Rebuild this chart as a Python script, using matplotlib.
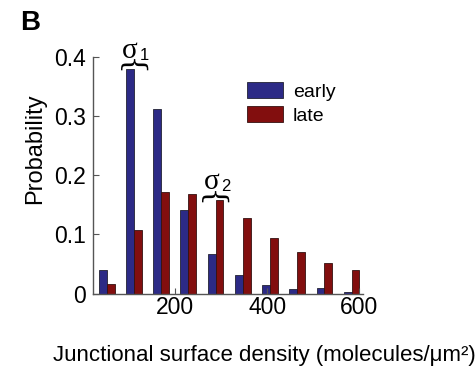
import numpy as np
from matplotlib import pyplot as plt

# histogram bins (molecules/um^2) and probabilities
bin_centers = [52, 111, 170, 229, 288, 347, 406, 465, 524, 583]
early = [0.039, 0.380, 0.313, 0.141, 0.067, 0.032, 0.014, 0.007, 0.010, 0.002]
late = [0.016, 0.108, 0.172, 0.168, 0.158, 0.127, 0.094, 0.070, 0.051, 0.040]
series_labels = ["early", "late"]
xticks = [200, 400, 600]
yticks = [0, 0.1, 0.2, 0.3, 0.4]
ytick_labels = ["0", "0.1", "0.2", "0.3", "0.4"]

blue = "#2c2a86"
red = "#820e0e"
grey = "#555555"

plt.rcParams['font.family'] = ['Liberation Sans', 'DejaVu Sans']

fig = plt.figure(figsize=(4.76, 3.66), dpi=100)
ax = fig.add_axes([0.195, 0.198, 0.568, 0.646])

w = 17
x = np.array(bin_centers)
ax.bar(x - w / 2, early, width=w, color=blue, edgecolor="#222233", linewidth=0.6, label=series_labels[0])
ax.bar(x + w / 2, late, width=w, color=red, edgecolor="#331111", linewidth=0.6, label=series_labels[1])

ax.set_xlim(22, 608)
ax.set_ylim(0, 0.4)
ax.set_xticks(xticks)
ax.set_yticks(yticks)
ax.set_yticklabels(ytick_labels)
for s in ["top", "right"]:
    ax.spines[s].set_visible(False)
for s in ["left", "bottom"]:
    ax.spines[s].set_color(grey)
    ax.spines[s].set_linewidth(1)
ax.tick_params(direction="in", length=4, color=grey, labelsize=16.5, width=0.8)
ax.tick_params(axis="y", pad=5)
ax.tick_params(axis="x", pad=2)

# sigma annotations with braces (offsets in points)
for k, name in [(1, "1"), (4, "2")]:
    top = max(early[k], late[k])
    pos = (bin_centers[k], top)
    ax.annotate("}", pos, xytext=(-1.5, -1), textcoords="offset points",
                rotation=90, ha="center", va="bottom", fontsize=21,
                family="DejaVu Serif", annotation_clip=False)
    ax.annotate("σ", pos, xytext=(-3, 8), textcoords="offset points",
                ha="center", va="baseline", fontsize=21,
                family="Liberation Serif", annotation_clip=False)
    ax.annotate(name, pos, xytext=(4, 6.5), textcoords="offset points",
                ha="left", va="baseline", fontsize=12, annotation_clip=False)

leg = ax.legend(loc="upper left", bbox_to_anchor=(247 / 476, 1 - 82 / 366),
                bbox_transform=fig.transFigure, frameon=False, fontsize=14,
                handlelength=1.85, handleheight=0.88, handletextpad=0.5,
                labelspacing=0.3, borderpad=0, borderaxespad=0)

fig.text(0.555, 0.03, "Junctional surface density (molecules/μm²)", ha="center",
         va="center", fontsize=16)
fig.text(35 / 476, 1 - 149 / 366, "Probability", rotation=90, ha="center",
         va="center", fontsize=17)
fig.text(20 / 476, 1 - 23 / 366, "B", ha="left", va="center", fontsize=20,
         fontweight="bold")

fig.savefig("out.png", dpi=100)
